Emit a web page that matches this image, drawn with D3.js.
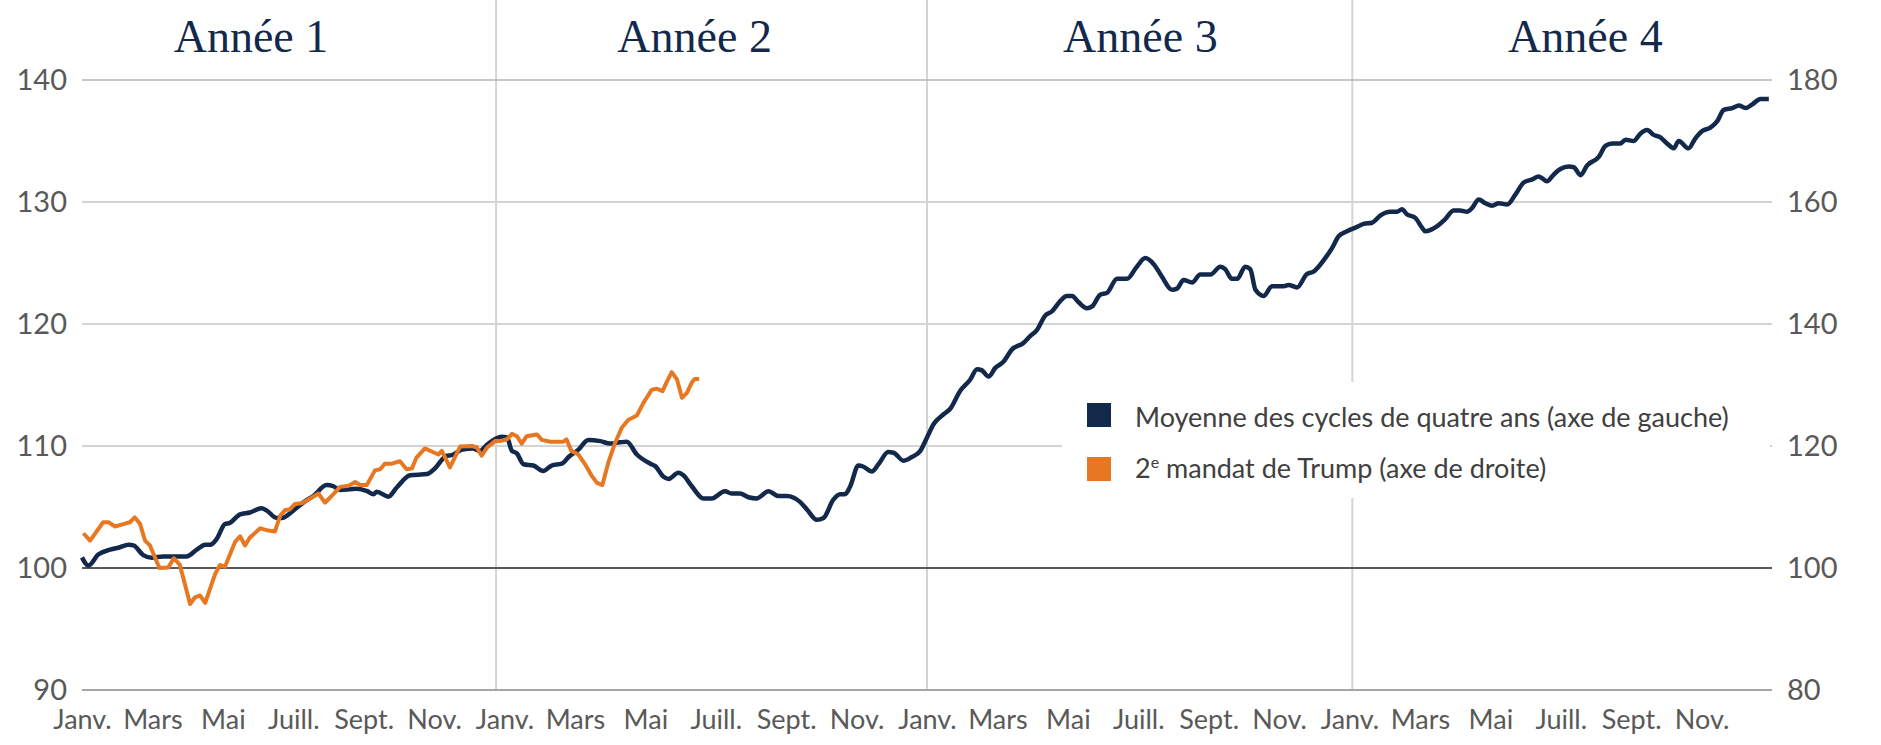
<!DOCTYPE html>
<html>
<head>
<meta charset="utf-8">
<script src="https://cdn.jsdelivr.net/npm/d3@7"></script>
<style>
	body { margin: 0; background: #fff; }
	svg text { font-family: Lato, "Open Sans", sans-serif; }
</style>
</head>
<body>
<svg id="chart" width="1881" height="745"></svg>
<script>
// values; x is months since start of year 1
const monthLabels = ["Janv.", "Mars", "Mai", "Juill.", "Sept.", "Nov."];
const yearNames = ["Année 1", "Année 2", "Année 3", "Année 4"];
const yearLabelAt = [4.8, 17.4, 30.06, 42.7];
const yearLinesAt = [11.76, 24, 36.08];
const leftTicks = [90, 100, 110, 120, 130, 140];
const rightTicks = [80, 100, 120, 140, 160, 180];

const navyMonths = [0, 0.18, 0.46, 0.8, 1.08, 1.32, 1.46, 1.74, 1.98, 2.3, 2.97, 3.26, 3.5, 3.64, 3.83, 4.06, 4.2, 4.49, 4.77, 5.1,
	5.25, 5.53, 5.67, 6.0, 6.3, 6.57, 6.95, 7.14, 7.33, 7.6, 7.8, 8.1, 8.28, 8.37, 8.7, 8.94, 9.32, 9.8, 10.0, 10.36,
	10.5, 10.8, 11.1, 11.3, 11.5, 11.92, 12.07, 12.21, 12.35, 12.54, 12.82, 13.1, 13.34, 13.63, 13.82, 14.1, 14.38, 14.72, 15.0, 15.28,
	15.47, 15.76, 16.14, 16.28, 16.51, 16.66, 16.94, 17.08, 17.32, 17.65, 17.89, 18.26, 18.45, 18.69, 18.93, 19.16, 19.5, 19.78, 20.02, 20.4,
	20.59, 20.87, 21.06, 21.34, 21.53, 21.67, 21.82, 22.05, 22.2, 22.43, 22.62, 22.9, 23.05, 23.33, 23.57, 23.81, 24.0, 24.19, 24.47, 24.66,
	24.94, 25.23, 25.42, 25.56, 25.75, 25.94, 26.17, 26.41, 26.74, 26.93, 27.12, 27.36, 27.55, 27.79, 27.97, 28.12, 28.3, 28.54, 28.69, 28.92,
	29.11, 29.4, 29.68, 29.96, 30.2, 30.44, 30.67, 30.96, 31.1, 31.29, 31.53, 31.76, 32.05, 32.33, 32.47, 32.66, 32.81, 33.04, 33.18, 33.33,
	33.56, 33.8, 34.13, 34.27, 34.51, 34.79, 34.98, 35.31, 35.5, 35.69, 35.93, 36.17, 36.4, 36.64, 36.88, 37.16, 37.35, 37.49, 37.63, 37.87,
	38.06, 38.15, 38.48, 38.72, 38.96, 39.14, 39.34, 39.48, 39.67, 39.86, 40.05, 40.24, 40.48, 40.71, 40.95, 41.19, 41.37, 41.61, 41.8, 41.99,
	42.23, 42.37, 42.56, 42.75, 43.08, 43.27, 43.46, 43.69, 43.84, 44.07, 44.26, 44.45, 44.64, 44.83, 45.02, 45.21, 45.35, 45.63, 45.82, 46.01,
	46.25, 46.44, 46.63, 46.87, 47.06, 47.25, 47.44, 47.67, 47.91];
const navyValues = [100.87, 100.2, 101.1, 101.5, 101.7, 101.9, 101.85, 101.06, 100.85, 100.95, 100.95, 101.5, 101.9, 101.9, 102.4, 103.6, 103.7, 104.4, 104.55, 104.9,
	104.7, 104.1, 104.1, 104.7, 105.4, 105.9, 106.8, 106.7, 106.4, 106.45, 106.5, 106.3, 106.05, 106.25, 105.85, 106.6, 107.6, 107.7, 108.1, 109.2,
	109.25, 109.7, 109.8, 109.6, 110.1, 110.76, 110.7, 109.6, 109.4, 108.5, 108.4, 107.95, 108.4, 108.55, 109.1, 109.7, 110.5, 110.4, 110.2, 110.3,
	110.35, 109.3, 108.55, 108.35, 107.5, 107.3, 107.8, 107.6, 106.7, 105.7, 105.7, 106.3, 106.1, 106.1, 105.8, 105.7, 106.3, 105.9, 105.9, 105.4,
	104.8, 103.95, 104.1, 105.6, 106.05, 106.05, 106.7, 108.4, 108.3, 107.9, 108.5, 109.5, 109.45, 108.8, 109.1, 109.6, 110.7, 111.8, 112.6, 113.05,
	114.5, 115.45, 116.3, 116.2, 115.7, 116.4, 116.9, 117.9, 118.45, 119.0, 119.5, 120.7, 121.04, 121.9, 122.3, 122.3, 121.8, 121.3, 121.45, 122.4,
	122.55, 123.7, 123.7, 124.7, 125.4, 124.9, 123.9, 122.8, 122.9, 123.6, 123.4, 124.05, 124.05, 124.7, 124.5, 123.7, 123.7, 124.7, 124.5, 122.8,
	122.3, 123.1, 123.1, 123.2, 123.0, 124.1, 124.3, 125.4, 126.2, 127.2, 127.6, 127.9, 128.2, 128.3, 128.9, 129.2, 129.2, 129.4, 129.0, 128.7,
	127.9, 127.6, 128.0, 128.6, 129.3, 129.3, 129.2, 129.5, 130.2, 129.9, 129.7, 129.9, 129.8, 130.6, 131.6, 131.85, 132.1, 131.7, 132.25, 132.7,
	132.9, 132.85, 132.2, 133.0, 133.7, 134.6, 134.8, 134.8, 135.1, 135.0, 135.6, 135.9, 135.5, 135.3, 134.8, 134.4, 135.0, 134.4, 135.2, 135.8,
	136.1, 136.6, 137.55, 137.7, 137.9, 137.7, 138.0, 138.45, 138.45];

const trumpMonths = [0.04, 0.23, 0.6, 0.75, 0.94, 1.17, 1.36, 1.5, 1.65, 1.79, 1.93, 2.2, 2.45, 2.61, 2.78, 3.07, 3.21, 3.35, 3.5, 3.78,
	3.92, 4.06, 4.35, 4.49, 4.63, 4.77, 5.06, 5.25, 5.48, 5.63, 5.77, 5.9, 6.05, 6.24, 6.48, 6.72, 6.9, 7.14, 7.33, 7.57,
	7.76, 7.9, 8.09, 8.32, 8.47, 8.6, 8.8, 9.03, 9.22, 9.37, 9.5, 9.74, 9.93, 10.12, 10.22, 10.45, 10.74, 11.07, 11.21, 11.35,
	11.5, 11.73, 11.87, 12.07, 12.21, 12.35, 12.49, 12.63, 12.92, 13.06, 13.3, 13.67, 13.76, 13.9, 14.1, 14.29, 14.48, 14.62, 14.78, 14.95,
	15.14, 15.33, 15.52, 15.76, 15.95, 16.18, 16.32, 16.49, 16.61, 16.75, 16.9, 17.04, 17.18, 17.32, 17.4, 17.53];
const trumpValues = [105.7, 104.5, 107.5, 107.5, 106.8, 107.2, 107.5, 108.3, 107.2, 104.5, 103.7, 100.0, 100.1, 101.6, 100.5, 94.1, 95.2, 95.5, 94.3, 99.0,
	100.5, 100.2, 104.3, 105.2, 103.7, 105.0, 106.5, 106.2, 106.0, 108.6, 109.5, 109.6, 110.5, 110.6, 111.4, 112.2, 110.7, 112.1, 113.3, 113.5,
	114.1, 113.6, 113.6, 116.0, 116.2, 117.1, 117.1, 117.5, 116.2, 116.3, 118.1, 119.6, 119.1, 118.6, 119.2, 116.5, 119.9, 120.0, 119.8, 118.4,
	119.7, 120.8, 120.8, 121.1, 122.0, 121.6, 120.4, 121.6, 121.9, 121.0, 120.7, 120.7, 121.1, 119.2, 118.6, 117.0, 115.1, 114.0, 113.6, 117.3,
	120.5, 123.0, 124.3, 125.0, 127.1, 129.2, 129.4, 129.0, 130.5, 132.1, 130.9, 127.9, 128.7, 130.4, 131.0, 131.0];

const navyColor = "#13294b";
const orangeColor = "#e87722";

const svg = d3.select("#chart");
const margin = {top: 80, right: 109, bottom: 55, left: 82};
const W = 1881, H = 745;

const x = d3.scaleLinear().domain([0, 48]).range([margin.left, W - margin.right]);
const yL = d3.scaleLinear().domain([90, 140]).range([H - margin.bottom, margin.top]);
const yR = d3.scaleLinear().domain([80, 180]).range([H - margin.bottom, margin.top]);

// year separators
svg.append("g").selectAll("line")
	.data(yearLinesAt)
	.join("line")
	.attr("x1", d => x(d)).attr("x2", d => x(d))
	.attr("y1", 0).attr("y2", yL(90))
	.attr("stroke", "#d4d4d4")
	.attr("stroke-width", 2);

// horizontal grid
svg.append("g").selectAll("line")
	.data(leftTicks)
	.join("line")
	.attr("x1", x(0)).attr("x2", x(48))
	.attr("y1", d => yL(d)).attr("y2", d => yL(d))
	.attr("stroke", d => d == 100 ? "#595959" : (d == 90 ? "#a6a6a6" : (d == 140 ? "#b4b4b4" : "#d4d4d4")))
	.attr("stroke-width", d => d == 140 ? 1.5 : 2);

// year titles
svg.append("g").selectAll("text")
	.data(yearNames)
	.join("text")
	.attr("x", (d, i) => x(yearLabelAt[i]))
	.attr("y", 52)
	.attr("text-anchor", "middle")
	.style("font-family", "'Liberation Serif', 'DejaVu Serif', serif")
	.style("font-size", "46px")
	.attr("fill", navyColor)
	.text(d => d);

// axes
let axL = svg.append("g")
	.attr("transform", "translate(" + margin.left + ",0)")
	.call(d3.axisLeft(yL).tickValues(leftTicks).tickSize(0).tickPadding(15));
let axR = svg.append("g")
	.attr("transform", "translate(" + (W - margin.right) + ",0)")
	.call(d3.axisRight(yR).tickValues(rightTicks).tickSize(0).tickPadding(15));
let axB = svg.append("g")
	.attr("transform", "translate(0," + yL(90) + ")")
	.call(d3.axisBottom(x).tickValues(d3.range(0, 48, 2)).tickSize(0).tickPadding(20)
		.tickFormat((d, i) => monthLabels[i % 6]));

for (let ax of [axL, axR, axB]) {
	ax.select(".domain").remove();
	ax.selectAll("text")
		.style("font-family", "Lato, sans-serif")
		.style("font-weight", 400)
		.attr("fill", "#595959");
}
axL.selectAll("text").style("font-size", "29px");
axR.selectAll("text").style("font-size", "29px");
axB.selectAll("text").style("font-size", "27px");

// legend
svg.append("rect")
	.attr("x", 1062).attr("y", 382)
	.attr("width", 708).attr("height", 116)
	.attr("fill", "#fff");

let legend = svg.append("g").attr("transform", "translate(1087,403)");
legend.append("rect").attr("width", 24).attr("height", 24).attr("fill", navyColor);
legend.append("rect").attr("y", 54).attr("width", 24).attr("height", 24).attr("fill", orangeColor);
legend.append("text")
	.attr("x", 48).attr("y", 24)
	.style("font-size", "27px")
	.attr("fill", "#404040")
	.text("Moyenne des cycles de quatre ans (axe de gauche)");
let t2 = legend.append("text")
	.attr("x", 48).attr("y", 75)
	.style("font-size", "27px")
	.attr("fill", "#404040");
t2.append("tspan").text("2");
t2.append("tspan").attr("dy", -10).style("font-size", "16px").text("e");
t2.append("tspan").attr("dy", 10).text(" mandat de Trump (axe de droite)");

// series
const navy = d3.zip(navyMonths, navyValues);
const trump = d3.zip(trumpMonths, trumpValues);

svg.append("path")
	.datum(navy)
	.attr("fill", "none")
	.attr("stroke", navyColor)
	.attr("stroke-width", 4.5)
	.attr("stroke-linejoin", "round")
	.attr("d", d3.line().x(d => x(d[0])).y(d => yL(d[1])).curve(d3.curveMonotoneX));

svg.append("path")
	.datum(trump)
	.attr("fill", "none")
	.attr("stroke", orangeColor)
	.attr("stroke-width", 4)
	.attr("stroke-linejoin", "round")
	.attr("d", d3.line().x(d => x(d[0])).y(d => yR(d[1])));
</script>
</body>
</html>
